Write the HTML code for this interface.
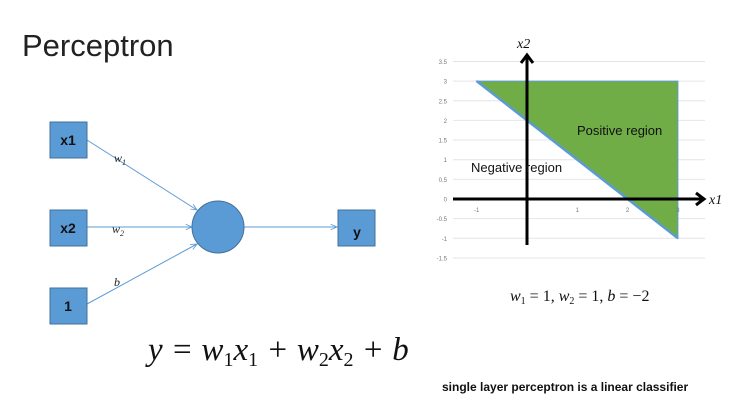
<!DOCTYPE html>
<html><head><meta charset="utf-8"><style>
body{margin:0;background:#fff;}
svg{display:block;}
</style></head><body>
<svg width="740" height="402" viewBox="0 0 740 402">
<defs>
<marker id="ar" viewBox="0 0 10 10" refX="9" refY="5" markerWidth="7" markerHeight="7" orient="auto"><path d="M0,1 L9,5 L0,9" fill="none" stroke="#5b9bd5" stroke-width="1.2"/></marker>
</defs>
<text x="22" y="56" font-family="Liberation Sans, sans-serif" font-size="31" fill="#222">Perceptron</text>
<g>
<line x1="87" y1="140" x2="197" y2="210" stroke="#5b9bd5" stroke-width="1" marker-end="url(#ar)"/>
<line x1="87" y1="227" x2="192" y2="227" stroke="#5b9bd5" stroke-width="1" marker-end="url(#ar)"/>
<line x1="87" y1="304" x2="197" y2="244" stroke="#5b9bd5" stroke-width="1" marker-end="url(#ar)"/>
<line x1="244" y1="227" x2="337" y2="227" stroke="#5b9bd5" stroke-width="1" marker-end="url(#ar)"/>
<rect x="50" y="122" width="37" height="36" fill="#5b9bd5" stroke="#41719c"/>
<rect x="50" y="210" width="37" height="36" fill="#5b9bd5" stroke="#41719c"/>
<rect x="50" y="288" width="37" height="36" fill="#5b9bd5" stroke="#41719c"/>
<rect x="338" y="210" width="37" height="36" fill="#5b9bd5" stroke="#41719c"/>
<circle cx="218" cy="227" r="26" fill="#5b9bd5" stroke="#41719c"/>
<g font-family="Liberation Sans, sans-serif" font-weight="bold" font-size="14" fill="#111" text-anchor="middle">
<text x="68" y="145">x1</text><text x="68" y="233">x2</text><text x="68" y="311">1</text><text x="357" y="237">y</text></g>
<g font-family="Liberation Serif, serif" font-style="italic" font-size="12" fill="#222">
<text x="114" y="162">w<tspan font-size="8" dy="3">1</tspan></text>
<text x="112" y="233">w<tspan font-size="8" dy="3">2</tspan></text>
<text x="114" y="286">b</text></g>
</g>
<text x="148" y="360" font-family="Liberation Serif, serif" font-style="italic" font-size="33" fill="#111">y = w<tspan font-size="20" dy="6" font-style="normal">1</tspan><tspan dy="-6">x</tspan><tspan font-size="20" dy="6" font-style="normal">1</tspan><tspan dy="-6"> + w</tspan><tspan font-size="20" dy="6" font-style="normal">2</tspan><tspan dy="-6">x</tspan><tspan font-size="20" dy="6" font-style="normal">2</tspan><tspan dy="-6"> + b</tspan></text>
<g id="chart"></g>
<text x="510" y="301" font-family="Liberation Serif, serif" font-size="16" fill="#111"><tspan font-style="italic">w</tspan><tspan font-size="10" dy="3">1</tspan><tspan dy="-3"> = 1, </tspan><tspan font-style="italic">w</tspan><tspan font-size="10" dy="3">2</tspan><tspan dy="-3"> = 1, </tspan><tspan font-style="italic">b</tspan> = −2</text>
<text x="442" y="391" font-family="Liberation Sans, sans-serif" font-weight="bold" font-size="12" fill="#111">single layer perceptron is a linear classifier</text>
</svg>
<script>
const yTicks=[3.5,3,2.5,2,1.5,1,0.5,0,-0.5,-1,-1.5];
const xTicks=[-1,1,2,3];
const regionX=[-1,3,3];
const regionY=[3,3,-1];
const lineX=[-1,3];
const lineY=[3,-1];
const sx=v=>527+50.3*v, sy=v=>199-39.3*v;
const NS="http://www.w3.org/2000/svg";
const g=document.getElementById('chart');
function mk(t,a,p){const e=document.createElementNS(NS,t);for(const k in a)e.setAttribute(k,a[k]);(p||g).appendChild(e);return e;}
yTicks.forEach(v=>{
 const l=mk('line',{x1:453,x2:705,y1:sy(v),y2:sy(v),stroke:'#e4e4e4','stroke-width':1});
 
 
 const t=mk('text',{x:447,y:sy(v)+2.5,'text-anchor':'end','font-family':'Liberation Sans, sans-serif','font-size':6,fill:'#777'});
 t.textContent=v;
 
 
});
const poly=mk('polygon',{points:regionX.map((x,i)=>sx(x)+','+sy(regionY[i])).join(' '),fill:'#70ad47',stroke:'#5b9bd5','stroke-width':1});


const bl=mk('line',{x1:sx(lineX[0]),y1:sy(lineY[0]),x2:sx(lineX[1]),y2:sy(lineY[1]),stroke:'#5b9bd5','stroke-width':2.5});


const xa=mk('path',{d:`M453 ${sy(0)} H703 M696 ${sy(0)-6} L704 ${sy(0)} L696 ${sy(0)+6}`,stroke:'#000','stroke-width':3,fill:'none'});


const ya=mk('path',{d:`M${sx(0)} 245 V56 M${sx(0)-6} 63 L${sx(0)} 55 L${sx(0)+6} 63`,stroke:'#000','stroke-width':3,fill:'none'});


xTicks.forEach(v=>{
 const t=mk('text',{x:sx(v),y:212,'text-anchor':'middle','font-family':'Liberation Sans, sans-serif','font-size':6,fill:'#777'});
 t.textContent=v;
 
 
});
const pl=mk('text',{x:577,y:135,'font-family':'Liberation Sans, sans-serif','font-size':13,fill:'#111'});pl.textContent='Positive region';


const nl=mk('text',{x:471,y:172,'font-family':'Liberation Sans, sans-serif','font-size':13,fill:'#111'});nl.textContent='Negative region';


const x1l=mk('text',{x:709,y:204,'font-family':'Liberation Serif, serif','font-style':'italic','font-size':14,fill:'#111'});x1l.textContent='x1';


const x2l=mk('text',{x:517,y:48,'font-family':'Liberation Serif, serif','font-style':'italic','font-size':14,fill:'#111'});x2l.textContent='x2';


</script>
</body></html>
